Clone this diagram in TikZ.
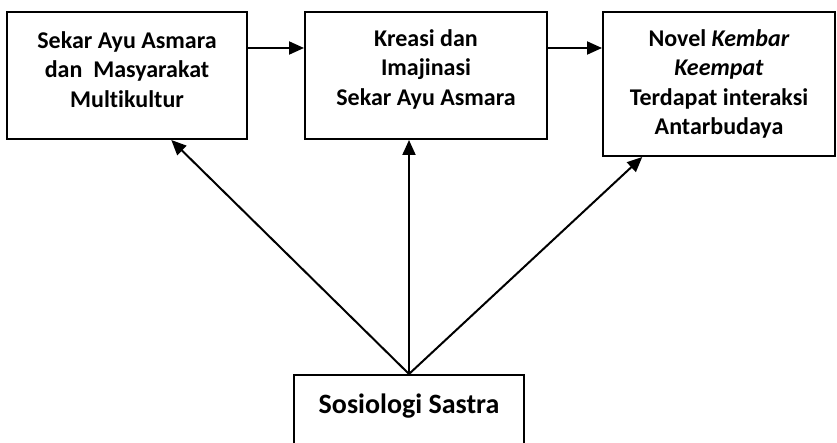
\documentclass[tikz,border=0pt]{standalone}
\usepackage{fontspec}
\setmainfont{Carlito}[Ligatures=NoCommon]
\usetikzlibrary{calc,arrows.meta}
\begin{document}
\begin{tikzpicture}[x=1pt,y=-1pt,
  box/.style={draw,line width=2pt,inner sep=0pt},
  txt/.style={align=center,inner sep=0pt,font=\bfseries\fontsize{24}{29.5}\selectfont},
  arr/.style={line width=2pt,-{Triangle[length=15pt,width=13pt]}}]
\useasboundingbox (0,0) rectangle (837,443);
\clip (0,0) rectangle (837,443);
% top row of boxes
\node[box,minimum width=240,minimum height=127] (b1) at (127,75.5) {};
\node[txt] (t1) at (127,69.3) {Sekar Ayu Asmara\\dan~ Masyarakat\\Multikultur};
\node[box,minimum width=242,minimum height=127] (b2) at (426,75.5) {};
\node[txt] (t2) at (426,69.3) {Kreasi dan\\Imajinasi\\Sekar Ayu Asmara};
\node[box,minimum width=232,minimum height=144] (b3) at (719,84) {};
\node[txt] (t3) at (719,83.8) {Novel \textit{Kembar}\\\textit{Keempat}\\Terdapat interaksi\\Antarbudaya};
% bottom box, running past the lower edge
\node[box,minimum width=230,minimum height=100,anchor=north] (b4) at (409,374) {};
\node[txt,anchor=base,font=\bfseries\fontsize{28}{34}\selectfont] (t4) at (409,413) {Sosiologi Sastra};
% connectors
\draw[arr] (b1.east |- 0,48) -- (b2.west |- 0,48);
\draw[arr] (b2.east |- 0,48) -- (b3.west |- 0,48);
\coordinate (apex) at (b4.north);
\draw[arr] (apex) -- ($(b1.south west)!0.683!(b1.south east)$);
\draw[arr] (apex) -- (b2.south -| apex);
\draw[arr] (apex) -- ($(b3.south west)!0.172!(b3.south east)$);
\end{tikzpicture}
\end{document}
